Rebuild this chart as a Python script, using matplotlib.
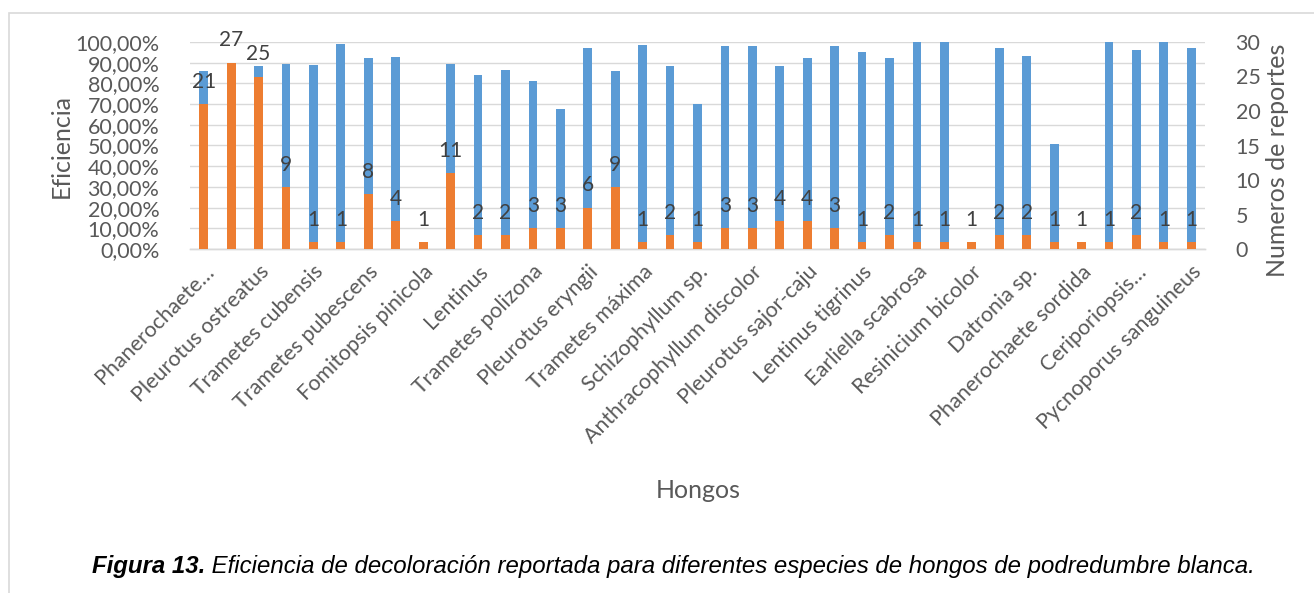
import matplotlib
matplotlib.use("Agg")
import matplotlib.pyplot as plt
from matplotlib.ticker import FuncFormatter, MultipleLocator
from matplotlib.patches import Rectangle

plt.rcParams["font.family"] = ["Lato", "DejaVu Sans"]

# Eficiencia de decoloración (fracción) y número de reportes por especie
eficiencia = [0.858, 0.89, 0.885, 0.895, 0.89, 0.99, 0.924, 0.927, 0.0, 0.895,
              0.84, 0.865, 0.811, 0.676, 0.973, 0.858, 0.985, 0.882, 0.70, 0.979,
              0.979, 0.884, 0.923, 0.981, 0.95, 0.923, 1.0, 1.0, 0.0, 0.969,
              0.931, 0.506, 0.0, 1.0, 0.96, 1.0, 0.969]
reportes = [21, 27, 25, 9, 1, 1, 8, 4, 1, 11,
            2, 2, 3, 3, 6, 9, 1, 2, 1, 3,
            3, 4, 4, 3, 1, 2, 1, 1, 1, 2,
            2, 1, 1, 1, 2, 1, 1]
# Etiquetas del eje X (una de cada dos especies)
etiquetas = ["Phanerochaete…", "Pleurotus ostreatus", "Trametes cubensis",
             "Trametes pubescens", "Fomitopsis pinicola", "Lentinus",
             "Trametes polizona", "Pleurotus eryngii", "Trametes máxima",
             "Schizophyllum sp.", "Anthracophyllum discolor",
             "Pleurotus sajor-caju", "Lentinus tigrinus", "Earliella scabrosa",
             "Resinicium bicolor", "Datronia sp.", "Phanerochaete sordida",
             "Ceriporiopsis…", "Pycnoporus sanguineus"]

AZUL = "#5B9BD5"
NARANJA = "#ED7D31"
GRIS_TXT = "#595959"
GRIS_LIN = "#D9D9D9"

W, H = 1314, 593
fig = plt.figure(figsize=(W / 100, H / 100), dpi=100)

# marco del gráfico
fig.patches.append(Rectangle((9 / W, -0.05), 1.1, 1 - 13 / H + 0.05,
                             transform=fig.transFigure, fill=False,
                             edgecolor=GRIS_LIN, linewidth=1.2))

ax = fig.add_axes([190 / W, 1 - 249 / H, (1205 - 190) / W, (249 - 42) / H])
ax2 = ax.twinx()

n = len(eficiencia)
x = list(range(n))
ancho = 0.32

ax.bar(x, eficiencia, width=ancho, color=AZUL, zorder=2)
ax2.bar(x, reportes, width=ancho, color=NARANJA, zorder=3)

for xi, r in zip(x, reportes):
    ax2.annotate(str(r), (xi, r), xytext=(0, 16), textcoords="offset points",
                 ha="center", va="center", fontsize=15, color="#404040")

ax.set_xlim(-0.5, n - 0.5)
ax.set_ylim(0, 1.0)
ax2.set_ylim(0, 30)

ax.yaxis.set_major_locator(MultipleLocator(0.1))
ax.yaxis.set_major_formatter(FuncFormatter(
    lambda v, p: f"{v * 100:.2f}%".replace(".", ",")))
ax2.yaxis.set_major_locator(MultipleLocator(5))

ax.grid(axis="y", color=GRIS_LIN, linewidth=1.0, zorder=0)
ax.set_axisbelow(True)

ax.set_xticks(x[::2])
ax.set_xticklabels(etiquetas, rotation=45, ha="right", rotation_mode="anchor",
                   fontsize=15.5, color=GRIS_TXT)

for a in (ax, ax2):
    for s in ("top", "left", "right"):
        a.spines[s].set_visible(False)
    a.spines["bottom"].set_color(GRIS_LIN)
    a.spines["bottom"].set_linewidth(1.0)
    a.tick_params(length=0)

ax.tick_params(axis="y", labelsize=15.5, labelcolor=GRIS_TXT, pad=22)
ax.tick_params(axis="x", pad=9)
ax2.tick_params(axis="y", labelsize=15.5, labelcolor=GRIS_TXT, pad=22)

ax.set_ylabel("Eficiencia", fontsize=18, color=GRIS_TXT)
ax.yaxis.set_label_coords(-0.116, 0.5)
ax2.set_ylabel("Numeros de reportes", fontsize=18, color=GRIS_TXT)
ax2.yaxis.set_label_coords(1.06, 0.43)

fig.text(698 / W, 1 - 490 / H, "Hongos", ha="center", va="center",
         fontsize=18, color=GRIS_TXT)

# pie de figura
cap_y = 1 - 567 / H
cap_fs = 17.3
t1 = fig.text(92 / W, cap_y, "Figura 13.", ha="left", va="center",
              fontsize=cap_fs, fontweight="bold", fontstyle="italic",
              family="Liberation Sans", color="black")
fig.canvas.draw()
bb = t1.get_window_extent()
fig.text(bb.x1 / W, cap_y,
         " Eficiencia de decoloración reportada para diferentes especies de hongos de podredumbre blanca.",
         ha="left", va="center", fontsize=cap_fs, fontstyle="italic",
         family="Liberation Sans", color="black")

fig.savefig("out.png", dpi=100)
